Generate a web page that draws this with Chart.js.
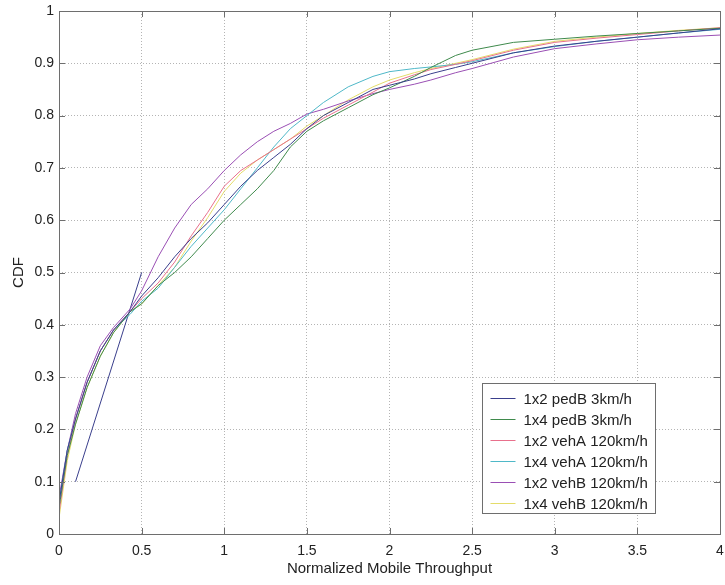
<!DOCTYPE html>
<html>
<head>
<meta charset="utf-8">
<script src="https://cdn.jsdelivr.net/npm/chart.js@4.4.0/dist/chart.umd.min.js"></script>
<style>
  html, body { margin: 0; padding: 0; background: #fff; }
  #wrap { width: 725px; height: 585px; }
</style>
</head>
<body>
<div id="wrap"><canvas id="cdfChart" width="725" height="585"></canvas></div>
<script>
// throughput grid shared by all curves
var xValues = [0, 0.05, 0.1, 0.17, 0.25, 0.33, 0.43, 0.5, 0.6, 0.7, 0.8, 0.9, 1.0, 1.1, 1.2, 1.3, 1.4, 1.5, 1.6, 1.75, 1.9, 2.0, 2.15, 2.25, 2.4, 2.5, 2.75, 3.0, 3.25, 3.5, 3.75, 4.0];

var pedB12 = [0.06, 0.16, 0.22, 0.29, 0.35, 0.39, 0.425, 0.455, 0.49, 0.53, 0.565, 0.595, 0.63, 0.665, 0.695, 0.72, 0.745, 0.775, 0.80, 0.825, 0.85, 0.858, 0.87, 0.88, 0.892, 0.90, 0.92, 0.933, 0.942, 0.95, 0.958, 0.966];
var pedB14 = [0.05, 0.15, 0.21, 0.28, 0.34, 0.385, 0.425, 0.44, 0.475, 0.50, 0.53, 0.565, 0.60, 0.63, 0.66, 0.695, 0.74, 0.77, 0.79, 0.815, 0.84, 0.853, 0.875, 0.892, 0.915, 0.925, 0.94, 0.946, 0.952, 0.957, 0.962, 0.967];
var vehA12 = [0.04, 0.15, 0.22, 0.29, 0.35, 0.39, 0.425, 0.45, 0.48, 0.52, 0.57, 0.615, 0.665, 0.695, 0.715, 0.735, 0.755, 0.775, 0.795, 0.82, 0.845, 0.862, 0.878, 0.888, 0.898, 0.905, 0.925, 0.94, 0.948, 0.955, 0.962, 0.968];
var vehA14 = [0.06, 0.16, 0.22, 0.29, 0.35, 0.39, 0.42, 0.445, 0.47, 0.51, 0.55, 0.585, 0.62, 0.66, 0.70, 0.74, 0.775, 0.80, 0.825, 0.855, 0.875, 0.884, 0.89, 0.893, 0.898, 0.903, 0.92, 0.932, 0.942, 0.95, 0.958, 0.965];
var vehB12 = [0.07, 0.16, 0.23, 0.30, 0.36, 0.395, 0.43, 0.465, 0.53, 0.585, 0.63, 0.66, 0.695, 0.725, 0.75, 0.77, 0.785, 0.803, 0.812, 0.828, 0.842, 0.85, 0.86, 0.868, 0.882, 0.89, 0.912, 0.928, 0.937, 0.945, 0.95, 0.954];
var vehB14 = [0.03, 0.14, 0.21, 0.28, 0.34, 0.385, 0.425, 0.44, 0.475, 0.51, 0.56, 0.605, 0.655, 0.69, 0.715, 0.735, 0.755, 0.78, 0.80, 0.83, 0.855, 0.868, 0.882, 0.89, 0.90, 0.907, 0.927, 0.942, 0.95, 0.957, 0.963, 0.968];

// straight start segment of the 1x2 pedB curve
var pedB12StartX = [0.1, 0.5];
var pedB12StartY = [0.1, 0.5];

var seriesLabels = ['1x2 pedB 3km/h', '1x4 pedB 3km/h', '1x2 vehA 120km/h', '1x4 vehA 120km/h', '1x2 vehB 120km/h', '1x4 vehB 120km/h'];
var seriesColors = ['#3a3f8c', '#3f8a4c', '#e8708c', '#4fb8c8', '#9a4fb4', '#e4dc6a'];
var seriesValues = [pedB12, pedB14, vehA12, vehA14, vehB12, vehB14];

function toPoints(xs, ys) {
    return xs.map(function (x, i) { return { x: x, y: ys[i] }; });
}

var datasets = seriesValues.map(function (vals, i) {
    return {
        label: seriesLabels[i],
        data: toPoints(xValues, vals),
        borderColor: seriesColors[i],
        borderWidth: 1,
        pointRadius: 0,
        tension: 0,
        fill: false
    };
});
datasets.push({
    label: '',
    data: toPoints(pedB12StartX, pedB12StartY),
    borderColor: seriesColors[0],
    borderWidth: 1,
    pointRadius: 0,
    fill: false
});

var fontFamily = '"Liberation Sans", Arial, sans-serif';

// axes frame with inward tick marks, plus the boxed legend
var framePlugin = {
    id: 'frame',
    afterDraw: function (chart) {
        var ctx = chart.ctx;
        var a = chart.chartArea;
        var xs = chart.scales.x, ys = chart.scales.y;
        ctx.save();
        ctx.strokeStyle = '#6e6e6e';
        ctx.lineWidth = 1;
        ctx.strokeRect(Math.round(a.left) + 0.5, Math.round(a.top) + 0.5, Math.round(a.right - a.left), Math.round(a.bottom - a.top));
        ctx.beginPath();
        xs.ticks.forEach(function (t, i) {
            var px = Math.round(xs.getPixelForTick(i)) + 0.5;
            ctx.moveTo(px, a.bottom); ctx.lineTo(px, a.bottom - 6);
            ctx.moveTo(px, a.top); ctx.lineTo(px, a.top + 6);
        });
        ys.ticks.forEach(function (t, i) {
            var py = Math.round(ys.getPixelForTick(i)) + 0.5;
            ctx.moveTo(a.left, py); ctx.lineTo(a.left + 6, py);
            ctx.moveTo(a.right, py); ctx.lineTo(a.right - 6, py);
        });
        ctx.stroke();

        // legend
        var boxW = 173, boxH = 130;
        var bx = Math.round(a.right - 65 - boxW) + 0.5;
        var by = Math.round(a.bottom - 21 - boxH) + 0.5;
        ctx.fillStyle = '#fff';
        ctx.fillRect(bx, by, boxW, boxH);
        ctx.strokeStyle = '#6e6e6e';
        ctx.strokeRect(bx, by, boxW, boxH);
        ctx.font = '15px ' + fontFamily;
        ctx.textBaseline = 'middle';
        ctx.fillStyle = '#222';
        seriesLabels.forEach(function (lab, i) {
            var ry = Math.round(by + 14 + i * 21) + 0.5;
            ctx.strokeStyle = seriesColors[i];
            ctx.beginPath();
            ctx.moveTo(bx + 8, ry); ctx.lineTo(bx + 33, ry);
            ctx.stroke();
            ctx.fillText(lab, bx + 41, ry + 1);
        });
        ctx.restore();
    }
};

var tickFont = { family: fontFamily, size: 14 };
var titleFont = { family: fontFamily, size: 15 };

function plainNumber(value) {
    return String(parseFloat(Number(value).toFixed(2)));
}

new Chart(document.getElementById('cdfChart').getContext('2d'), {
    type: 'line',
    data: { datasets: datasets },
    options: {
        responsive: false,
        animation: false,
        layout: { padding: { left: 0, top: 11, right: 5, bottom: 0 } },
        plugins: {
            legend: { display: false },
            tooltip: { enabled: false }
        },
        scales: {
            x: {
                type: 'linear',
                min: 0,
                max: 4,
                ticks: { stepSize: 0.5, color: '#222', font: tickFont, padding: 9, maxRotation: 0, callback: plainNumber },
                grid: { color: '#b4b4b4', drawTicks: false, lineWidth: 1 },
                border: { display: false, dash: [1, 2] },
                title: { display: true, text: 'Normalized Mobile Throughput', color: '#222', font: titleFont, padding: { top: 0, bottom: 7 } },
                afterFit: function (scale) {
                    scale.height = 51;
                    scale.paddingLeft = 0;
                    scale.paddingRight = 0;
                }
            },
            y: {
                type: 'linear',
                min: 0,
                max: 1,
                ticks: { stepSize: 0.1, color: '#222', font: tickFont, padding: 5, callback: plainNumber },
                grid: { color: '#b4b4b4', drawTicks: false, lineWidth: 1 },
                border: { display: false, dash: [1, 2] },
                title: { display: true, text: 'CDF', color: '#222', font: titleFont, padding: { top: 10, bottom: 0 } },
                afterFit: function (scale) {
                    scale.width = 59;
                    scale.paddingTop = 0;
                    scale.paddingBottom = 0;
                }
            }
        }
    },
    plugins: [framePlugin]
});
</script>
</body>
</html>
